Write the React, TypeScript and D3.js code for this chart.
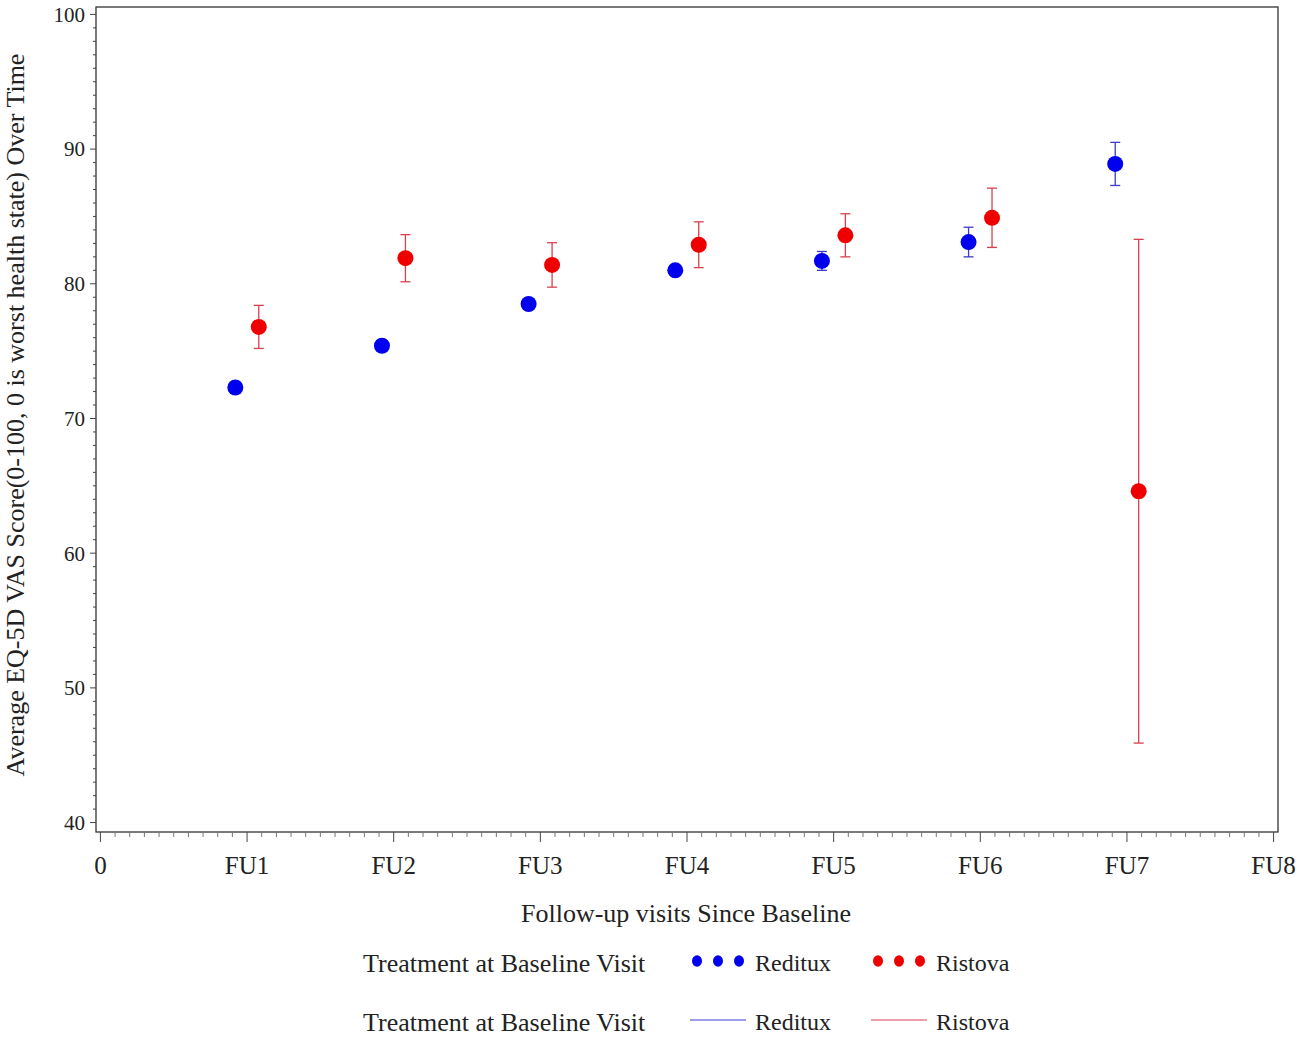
import { useEffect, useRef } from "react"
import * as d3 from "d3"

// visit labels on the x axis (0 = baseline)
const visitLabels = ["0", "FU1", "FU2", "FU3", "FU4", "FU5", "FU6", "FU7", "FU8"]
const visits = [1, 2, 3, 4, 5, 6, 7]

// Reditux means and half-widths of the error bars
const redituxMean = [72.3, 75.4, 78.5, 81.0, 81.7, 83.1, 88.9]
const redituxErr = [0.3, 0.4, 0.35, 0.3, 0.7, 1.1, 1.6]

// Ristova means and half-widths of the error bars
const ristovaMean = [76.8, 81.9, 81.4, 82.9, 83.6, 84.9, 64.6]
const ristovaErr = [1.6, 1.75, 1.65, 1.7, 1.6, 2.2, 18.7]

const yTicks = [40, 50, 60, 70, 80, 90, 100]

const legendLabels = ["Reditux", "Ristova"]

const W = 1299
const H = 1037
const FONT = "'Liberation Serif', 'Times New Roman', serif"

const App = () => {
  const svgRef = useRef<SVGSVGElement | null>(null)

  useEffect(() => {
    document.body.style.margin = "0"
    if (!svgRef.current) return
    const svg = d3.select(svgRef.current)
    svg.selectAll("*").remove()

    const margin = { top: 7, right: 21, bottom: 205, left: 96 }
    const innerW = W - margin.left - margin.right
    const innerH = H - margin.top - margin.bottom

    const x = d3.scaleLinear().domain([-0.03, 8.03]).range([0, innerW])
    const y = d3.scaleLinear().domain([39.3, 100.55]).range([innerH, 0])

    const g = svg.append("g").attr("transform", `translate(${margin.left},${margin.top})`)

    // frame
    g.append("rect")
      .attr("width", innerW)
      .attr("height", innerH)
      .attr("fill", "none")
      .attr("stroke", "#333")
      .attr("stroke-width", 1.3)

    // y axis: minor ticks every 1, major every 10
    const yMinor = d3.range(40, 101, 1)
    g.append("g")
      .selectAll("line")
      .data(yMinor)
      .join("line")
      .attr("x1", 0)
      .attr("x2", (d) => (d % 10 === 0 ? -6 : -3))
      .attr("y1", (d) => y(d))
      .attr("y2", (d) => y(d))
      .attr("stroke", "#444")
      .attr("stroke-width", 1)

    g.append("g")
      .selectAll("text")
      .data(yTicks)
      .join("text")
      .attr("x", -11)
      .attr("y", (d) => y(d))
      .attr("dy", "0.35em")
      .attr("text-anchor", "end")
      .attr("font-family", FONT)
      .attr("font-size", 21)
      .attr("fill", "#222")
      .text((d) => d)

    // x axis: minor ticks every 0.1, major at each visit
    const xMinor = d3.range(0, 81, 1).map((i) => i / 10)
    g.append("g")
      .selectAll("line")
      .data(xMinor)
      .join("line")
      .attr("x1", (d) => x(d))
      .attr("x2", (d) => x(d))
      .attr("y1", innerH)
      .attr("y2", (_, i) => innerH + (i % 10 === 0 ? 10 : 5))
      .attr("stroke", (_, i) => (i % 10 === 0 ? "#444" : "#777"))
      .attr("stroke-width", 1)

    g.append("g")
      .selectAll("text")
      .data(visitLabels)
      .join("text")
      .attr("x", (_, i) => x(i))
      .attr("y", 874 - margin.top)
      .attr("text-anchor", "middle")
      .attr("font-family", FONT)
      .attr("font-size", 25)
      .attr("fill", "#222")
      .text((d) => d)

    // axis titles
    svg.append("text")
      .attr("x", 686)
      .attr("y", 922)
      .attr("text-anchor", "middle")
      .attr("font-family", FONT)
      .attr("font-size", 26)
      .attr("fill", "#222")
      .text("Follow-up visits Since Baseline")

    svg.append("text")
      .attr("transform", `translate(24, 415) rotate(-90)`)
      .attr("text-anchor", "middle")
      .attr("font-family", FONT)
      .attr("font-size", 26)
      .attr("fill", "#222")
      .text("Average EQ-5D VAS Score(0-100, 0 is worst health state) Over Time")

    const series = [
      { mean: redituxMean, err: redituxErr, off: -0.08, dot: "#0000ee", bar: "#3a3ac4" },
      { mean: ristovaMean, err: ristovaErr, off: 0.08, dot: "#ee0000", bar: "#d8404e" },
    ]

    series.forEach((s) => {
      const data = visits.map((v, i) => ({ v, m: s.mean[i], e: s.err[i] }))
      const sg = g.append("g")
      sg.selectAll("line.whisker")
        .data(data)
        .join("line")
        .attr("class", "whisker")
        .attr("x1", (d) => x(d.v + s.off))
        .attr("x2", (d) => x(d.v + s.off))
        .attr("y1", (d) => y(d.m - d.e))
        .attr("y2", (d) => y(d.m + d.e))
        .attr("stroke", s.bar)
        .attr("stroke-width", 1.3)
      ;["lo", "hi"].forEach((k) => {
        sg.selectAll(`line.cap-${k}`)
          .data(data)
          .join("line")
          .attr("class", `cap-${k}`)
          .attr("x1", (d) => x(d.v + s.off) - 5)
          .attr("x2", (d) => x(d.v + s.off) + 5)
          .attr("y1", (d) => y(k === "lo" ? d.m - d.e : d.m + d.e))
          .attr("y2", (d) => y(k === "lo" ? d.m - d.e : d.m + d.e))
          .attr("stroke", s.bar)
          .attr("stroke-width", 1.3)
      })
      sg.selectAll("circle")
        .data(data)
        .join("circle")
        .attr("cx", (d) => x(d.v + s.off))
        .attr("cy", (d) => y(d.m))
        .attr("r", 8)
        .attr("fill", s.dot)
    })

    // legends
    const legend = svg.append("g").attr("font-family", FONT).attr("fill", "#222")
    ;[963, 1022].forEach((ly, row) => {
      legend.append("text")
        .attr("x", 363)
        .attr("y", ly + 9)
        .attr("font-size", 26)
        .text("Treatment at Baseline Visit")
      legendLabels.forEach((lab, j) => {
        const x0 = j === 0 ? 690 : 871
        const s = series[j]
        if (row === 0) {
          ;[0, 1, 2].forEach((k) => {
            legend.append("ellipse")
              .attr("cx", x0 + 7 + k * 21)
              .attr("cy", ly - 2)
              .attr("rx", 5)
              .attr("ry", 5.8)
              .attr("fill", s.dot)
          })
        } else {
          legend.append("line")
            .attr("x1", x0)
            .attr("x2", x0 + 56)
            .attr("y1", ly - 2)
            .attr("y2", ly - 2)
            .attr("stroke", j === 0 ? "#7d7de0" : "#e57f8c")
            .attr("stroke-width", 1.3)
        }
        legend.append("text")
          .attr("x", x0 + 65)
          .attr("y", ly + 8)
          .attr("font-size", 24)
          .text(lab)
      })
    })
  }, [])

  return <svg ref={svgRef} width={W} height={H} style={{ display: "block", background: "#fff" }} />
}

export default App
